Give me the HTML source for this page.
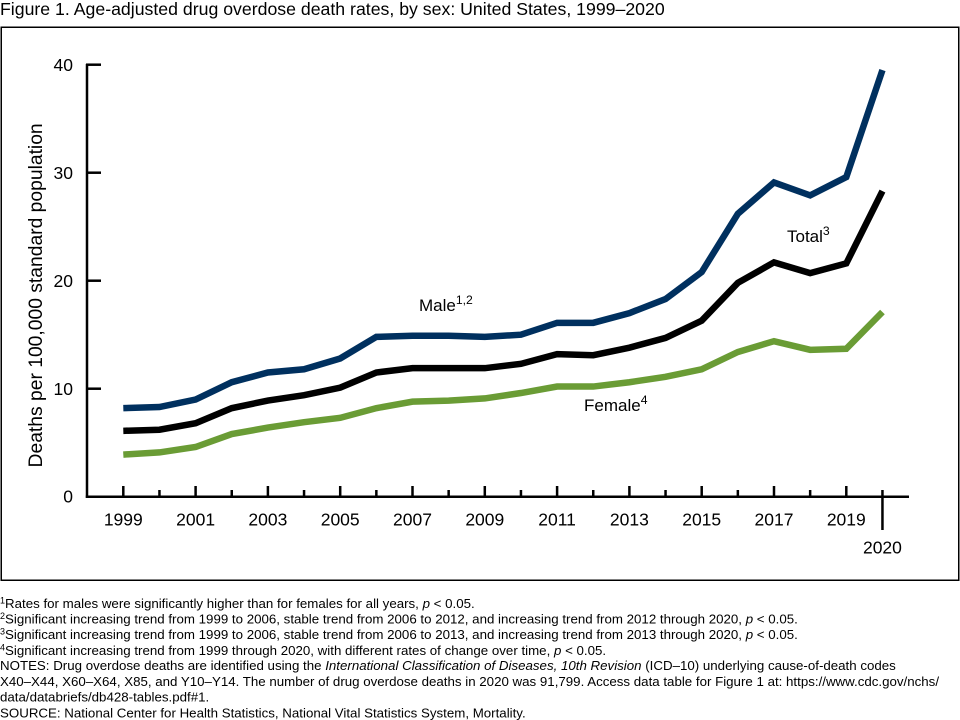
<!DOCTYPE html>
<html><head><meta charset="utf-8"><style>
html,body{margin:0;padding:0;background:#fff;}
body{width:960px;height:720px;overflow:hidden;position:relative;font-family:"Liberation Sans",Arial,sans-serif;}
svg{position:absolute;left:0;top:0;}
</style></head><body>
<svg width="960" height="720" viewBox="0 0 960 720" xmlns="http://www.w3.org/2000/svg" font-family="Liberation Sans, Arial, sans-serif">
<text x="0" y="15" font-size="17.7" fill="#000">Figure 1. Age-adjusted drug overdose death rates, by sex: United States, 1999–2020</text>
<rect x="1.25" y="27.25" width="957.5" height="553" fill="none" stroke="#000" stroke-width="1.5"/>
<!-- axes -->
<line x1="87" y1="64" x2="87" y2="497.9" stroke="#000" stroke-width="2.5"/>
<line x1="85.8" y1="496.7" x2="909" y2="496.7" stroke="#000" stroke-width="2.5"/>
<g stroke="#000" stroke-width="2.5">
<line x1="86" y1="64.7" x2="101" y2="64.7"/>
<line x1="86" y1="172.7" x2="101" y2="172.7"/>
<line x1="86" y1="280.7" x2="101" y2="280.7"/>
<line x1="86" y1="388.7" x2="101" y2="388.7"/>
<line x1="123.3" y1="486" x2="123.3" y2="497"/>
<line x1="159.45" y1="490" x2="159.45" y2="497"/>
<line x1="195.6" y1="486" x2="195.6" y2="497"/>
<line x1="231.75" y1="490" x2="231.75" y2="497"/>
<line x1="267.9" y1="486" x2="267.9" y2="497"/>
<line x1="304.05" y1="490" x2="304.05" y2="497"/>
<line x1="340.2" y1="486" x2="340.2" y2="497"/>
<line x1="376.35" y1="490" x2="376.35" y2="497"/>
<line x1="412.5" y1="486" x2="412.5" y2="497"/>
<line x1="448.65" y1="490" x2="448.65" y2="497"/>
<line x1="484.8" y1="486" x2="484.8" y2="497"/>
<line x1="520.95" y1="490" x2="520.95" y2="497"/>
<line x1="557.1" y1="486" x2="557.1" y2="497"/>
<line x1="593.25" y1="490" x2="593.25" y2="497"/>
<line x1="629.4" y1="486" x2="629.4" y2="497"/>
<line x1="665.55" y1="490" x2="665.55" y2="497"/>
<line x1="701.7" y1="486" x2="701.7" y2="497"/>
<line x1="737.85" y1="490" x2="737.85" y2="497"/>
<line x1="774" y1="486" x2="774" y2="497"/>
<line x1="810.15" y1="490" x2="810.15" y2="497"/>
<line x1="846.3" y1="486" x2="846.3" y2="497"/>
<line x1="882.45" y1="490" x2="882.45" y2="530"/>
</g>
<g font-size="17.5" fill="#000" text-anchor="end">
<text x="73" y="71">40</text>
<text x="73" y="179">30</text>
<text x="73" y="287">20</text>
<text x="73" y="395">10</text>
<text x="73" y="502.5">0</text>
</g>
<g font-size="17.5" fill="#000" text-anchor="middle">
<text x="123.3" y="525.5">1999</text>
<text x="195.6" y="525.5">2001</text>
<text x="267.9" y="525.5">2003</text>
<text x="340.2" y="525.5">2005</text>
<text x="412.5" y="525.5">2007</text>
<text x="484.8" y="525.5">2009</text>
<text x="557.1" y="525.5">2011</text>
<text x="629.4" y="525.5">2013</text>
<text x="701.7" y="525.5">2015</text>
<text x="774" y="525.5">2017</text>
<text x="846.3" y="525.5">2019</text>
<text x="882.45" y="553.5">2020</text>
</g>
<text transform="translate(42,295.4) rotate(-90)" font-size="19.3" text-anchor="middle" fill="#000">Deaths per 100,000 standard population</text>
<!-- series -->
<g transform="translate(123.3,496.7) scale(36.15,-10.8)" fill="none" stroke-linejoin="miter" stroke-linecap="butt">
<polyline vector-effect="non-scaling-stroke" stroke="#6a9c35" stroke-width="6.5" points="0,3.9 1,4.1 2,4.6 3,5.8 4,6.4 5,6.9 6,7.3 7,8.2 8,8.8 9,8.9 10,9.1 11,9.6 12,10.2 13,10.2 14,10.6 15,11.1 16,11.8 17,13.4 18,14.4 19,13.6 20,13.7 21,17.1"/>
<polyline vector-effect="non-scaling-stroke" stroke="#000" stroke-width="6.5" points="0,6.1 1,6.2 2,6.8 3,8.2 4,8.9 5,9.4 6,10.1 7,11.5 8,11.9 9,11.9 10,11.9 11,12.3 12,13.2 13,13.1 14,13.8 15,14.7 16,16.3 17,19.8 18,21.7 19,20.7 20,21.6 21,28.3"/>
<polyline vector-effect="non-scaling-stroke" stroke="#00305f" stroke-width="6.5" points="0,8.2 1,8.3 2,9.0 3,10.6 4,11.5 5,11.8 6,12.8 7,14.8 8,14.9 9,14.9 10,14.8 11,15.0 12,16.1 13,16.1 14,17.0 15,18.3 16,20.8 17,26.2 18,29.1 19,27.9 20,29.6 21,39.5"/>
</g>
<g font-size="17" fill="#000">
<text x="419" y="311">Male<tspan font-size="12.2" dy="-7">1,2</tspan></text>
<text x="787" y="242">Total<tspan font-size="12.2" dy="-7">3</tspan></text>
<text x="584" y="411">Female<tspan font-size="12.2" dy="-7">4</tspan></text>
</g>
<g font-size="13.3" fill="#000">
<text x="0" y="608"><tspan font-size="9" dy="-4.5">1</tspan><tspan dy="4.5">Rates for males were significantly higher than for females for all years, </tspan><tspan font-style="italic">p</tspan> &lt; 0.05.</text>
<text x="0" y="623.7"><tspan font-size="9" dy="-4.5">2</tspan><tspan dy="4.5">Significant increasing trend from 1999 to 2006, stable trend from 2006 to 2012, and increasing trend from 2012 through 2020, </tspan><tspan font-style="italic">p</tspan> &lt; 0.05.</text>
<text x="0" y="639.2"><tspan font-size="9" dy="-4.5">3</tspan><tspan dy="4.5">Significant increasing trend from 1999 to 2006, stable trend from 2006 to 2013, and increasing trend from 2013 through 2020, </tspan><tspan font-style="italic">p</tspan> &lt; 0.05.</text>
<text x="0" y="654.8"><tspan font-size="9" dy="-4.5">4</tspan><tspan dy="4.5">Significant increasing trend from 1999 through 2020, with different rates of change over time, </tspan><tspan font-style="italic">p</tspan> &lt; 0.05.</text>
<text x="0" y="670.2">NOTES: Drug overdose deaths are identified using the <tspan font-style="italic">International Classification of Diseases, 10th Revision</tspan> (ICD–10) underlying cause-of-death codes</text>
<text x="0" y="685.8">X40–X44, X60–X64, X85, and Y10–Y14. The number of drug overdose deaths in 2020 was 91,799. Access data table for Figure 1 at: https://www.cdc.gov/nchs/</text>
<text x="0" y="701.5">data/databriefs/db428-tables.pdf#1.</text>
<text x="0" y="717.5">SOURCE: National Center for Health Statistics, National Vital Statistics System, Mortality.</text>
</g>
</svg>
</body></html>
